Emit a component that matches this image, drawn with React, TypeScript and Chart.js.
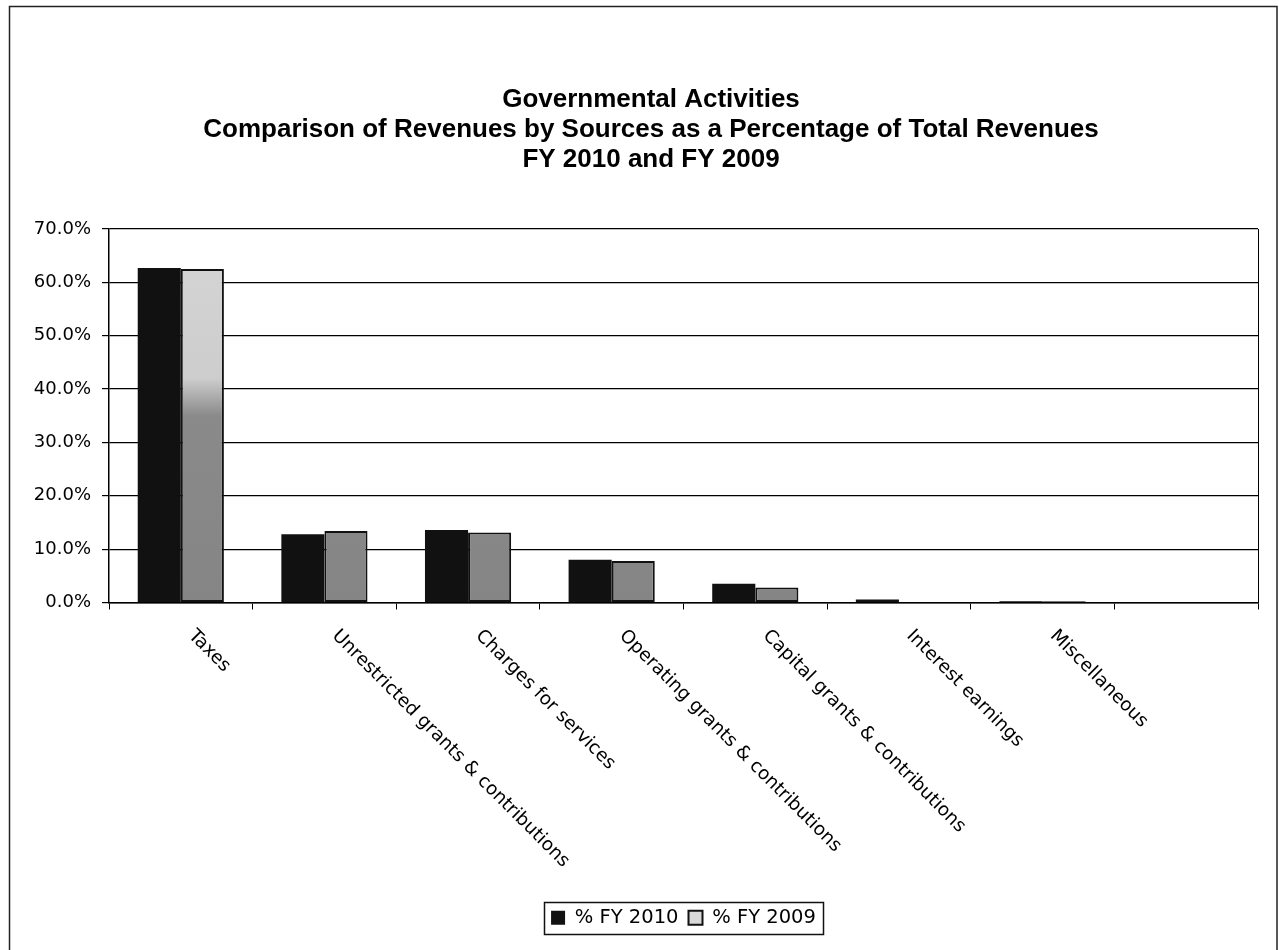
import React, { useEffect, useRef } from "react";
import { Chart, registerables } from "chart.js";

Chart.register(...registerables);

const TITLE_LINES = [
  "Governmental Activities",
  "Comparison of Revenues by Sources as a Percentage of Total Revenues",
  "FY 2010 and FY 2009",
];

const CATEGORIES = [
  "Taxes",
  "Unrestricted grants & contributions",
  "Charges for services",
  "Operating grants & contributions",
  "Capital grants & contributions",
  "Interest earnings",
  "Miscellaneous",
  "",
];

const SERIES_NAMES = ["% FY 2010", "% FY 2009"];
const FY2010 = [62.7, 12.8, 13.6, 8.0, 3.5, 0.55, 0.25, null];
const FY2009 = [62.5, 13.4, 13.1, 7.8, 2.8, 0.1, 0.25, null];

const Y_MIN = 0;
const Y_MAX = 70;
const Y_STEP = 10;

const LABEL_FONT = '"DejaVu Sans", sans-serif';

const framePlugin = {
  id: "frame",
  beforeDraw(chart: any) {
    const ctx = chart.ctx;
    ctx.save();
    ctx.fillStyle = "#fff";
    ctx.fillRect(0, 0, chart.width, chart.height);
    ctx.strokeStyle = "#222";
    ctx.lineWidth = 1.5;
    ctx.beginPath();
    ctx.moveTo(9.5, chart.height);
    ctx.lineTo(9.5, 6.5);
    ctx.lineTo(1277, 6.5);
    ctx.lineTo(1277, chart.height);
    ctx.stroke();
    ctx.restore();
  },
  afterDraw(chart: any) {
    const ctx = chart.ctx;
    const a = chart.chartArea;
    ctx.save();
    ctx.strokeStyle = "#000";
    ctx.lineWidth = 1;
    ctx.beginPath();
    ctx.moveTo(a.right + 0.5, a.top);
    ctx.lineTo(a.right + 0.5, a.bottom);
    ctx.stroke();
    // title
    ctx.fillStyle = "#000";
    ctx.font = 'bold 26px "Liberation Sans", Arial, sans-serif';
    ctx.textAlign = "center";
    ctx.textBaseline = "middle";
    TITLE_LINES.forEach((t, i) => ctx.fillText(t, 651, 100 + i * 30));
    // rotated category labels
    const xs = chart.scales.x;
    ctx.font = "18.5px " + LABEL_FONT;
    ctx.textAlign = "left";
    ctx.textBaseline = "top";
    CATEGORIES.forEach((c, i) => {
      if (!c) return;
      const x = xs.getPixelForValue(i);
      ctx.save();
      ctx.translate(x + 17, a.bottom + 24);
      ctx.rotate(Math.PI / 4);
      ctx.fillText(c, 0, 0);
      ctx.restore();
    });
    // legend border
    const lg = chart.legend;
    if (lg && lg.legendHitBoxes && lg.legendHitBoxes.length) {
      const hb = lg.legendHitBoxes;
      let l = Infinity, r = -Infinity, t = Infinity, b = -Infinity;
      hb.forEach((h: any) => {
        l = Math.min(l, h.left);
        r = Math.max(r, h.left + h.width);
        t = Math.min(t, h.top);
        b = Math.max(b, h.top + h.height);
      });
      ctx.strokeStyle = "#111";
      ctx.lineWidth = 1.5;
      ctx.strokeRect(Math.round(l - 7) + 0.5, Math.round(t - 6) + 0.5, Math.round(r - l + 14), Math.round(b - t + 12));
    }
    ctx.restore();
  },
};

function fy2009Fill(ctx: any) {
  const chart = ctx.chart;
  const a = chart.chartArea;
  if (!a) return "#999";
  const g = chart.ctx.createLinearGradient(0, a.top, 0, a.bottom);
  g.addColorStop(0, "#d6d6d6");
  g.addColorStop(0.4, "#cdcdcd");
  g.addColorStop(0.5, "#8a8a8a");
  g.addColorStop(1, "#858585");
  return g;
}

export default function App() {
  const ref = useRef<HTMLCanvasElement | null>(null);

  useEffect(() => {
    if (!ref.current) return;
    const chart = new Chart(ref.current, {
      type: "bar",
      data: {
        labels: CATEGORIES,
        datasets: [
          {
            label: SERIES_NAMES[0],
            data: FY2010,
            backgroundColor: "#111",
            borderColor: "#111",
            borderWidth: 0,
            borderSkipped: false,
          },
          {
            label: SERIES_NAMES[1],
            data: FY2009,
            backgroundColor: fy2009Fill,
            borderColor: "#111",
            borderWidth: 2,
            borderSkipped: false,
          },
        ],
      },
      options: {
        responsive: false,
        animation: false,
        devicePixelRatio: 1,
        layout: { padding: { top: 229, left: 10, right: 21, bottom: 12.5 } },
        datasets: { bar: { categoryPercentage: 0.6, barPercentage: 1.0 } },
        scales: {
          x: {
            grid: { drawOnChartArea: false, drawTicks: true, tickLength: 7, color: "#000", offset: true },
            border: { color: "#000", width: 1.5 },
            ticks: { display: false },
            afterFit: (s: any) => {
              s.height = 295.5;
            },
          },
          y: {
            min: Y_MIN,
            max: Y_MAX,
            ticks: {
              stepSize: Y_STEP,
              color: "#000",
              padding: 11,
              font: { family: LABEL_FONT, size: 18 },
              callback: (v: any) => Number(v).toFixed(1) + "%",
            },
            grid: { color: "#000", lineWidth: 1.2, tickLength: 7 },
            border: { color: "#000", width: 1.5 },
            afterFit: (s: any) => {
              s.width = 99;
            },
          },
        },
        plugins: {
          title: { display: false },
          tooltip: { enabled: false },
          legend: {
            display: true,
            position: "bottom",
            fullSize: false,
            labels: {
              color: "#000",
              boxWidth: 14,
              boxHeight: 14,
              padding: 10,
              font: { family: LABEL_FONT, size: 19.5 },
              generateLabels: (c: any) =>
                (Chart.defaults.plugins.legend.labels as any).generateLabels(c).map((l: any, i: number) => ({
                  ...l,
                  fillStyle: i === 0 ? "#111" : "#d8d8d8",
                  strokeStyle: "#111",
                  lineWidth: i === 0 ? 0 : 2,
                })),
            },
          },
        },
      },
      plugins: [framePlugin],
    });
    return () => chart.destroy();
  }, []);

  return (
    <div style={{ position: "fixed", left: 0, top: 0, width: 1279, height: 950, background: "#fff" }}>
      <canvas ref={ref} width={1279} height={950} />
    </div>
  );
}
